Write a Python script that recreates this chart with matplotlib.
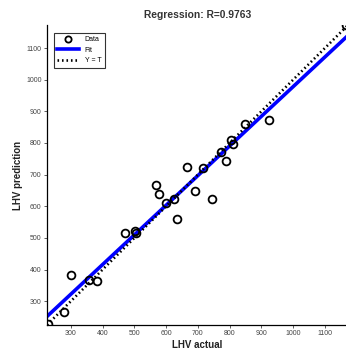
import numpy as np
import matplotlib
matplotlib.use('Agg')
import matplotlib.pyplot as plt

plt.rcParams['font.family'] = ['Liberation Sans', 'DejaVu Sans']

# LHV values
lhv_actual = [228, 277, 301, 358, 381, 471, 502, 505, 569, 578, 601, 625,
              635, 666, 690, 717, 743, 773, 788, 804, 810, 848, 924, 1165]
lhv_pred = [228, 267, 382, 366, 364, 517, 521, 515, 667, 639, 611, 622,
            559, 724, 648, 722, 624, 772, 743, 808, 796, 861, 874, 1172]
r_value = 0.9763
ticks = [300, 400, 500, 600, 700, 800, 900, 1000, 1100]
lims = (225, 1173)

x = np.array(lhv_actual)
y = np.array(lhv_pred)
slope, intercept = np.polyfit(x, y, 1)

fig = plt.figure(figsize=(3.46, 3.52), dpi=100)
ax = fig.add_axes([0.136, 0.077, 0.87, 0.852])

xx = np.array(lims)
ax.plot(x, y, 'o', mfc='none', mec='black', ms=5.6, mew=1.3, label='Data', zorder=3)
ax.plot(xx, slope * xx + intercept, color='blue', lw=2.6, label='Fit', zorder=2)
ax.plot(xx, xx, color='black', lw=1.9, ls=(0, (0.6, 1.1)), label='Y = T', zorder=2)

ax.set_xlim(lims)
ax.set_ylim(lims)
ax.set_xticks(ticks)
ax.set_yticks(ticks)
ax.tick_params(labelsize=5, colors='#444444', length=2, width=0.6, pad=2)
for s in ['top', 'right']:
    ax.spines[s].set_visible(False)
for s in ['left', 'bottom']:
    ax.spines[s].set_linewidth(0.9)

ax.set_title(f'Regression: R={r_value}', fontsize=7.4, fontweight='bold', color='#333333', pad=5)
ax.set_xlabel('LHV actual', fontsize=7, fontweight='bold', color='#222222', labelpad=2)
ax.set_ylabel('LHV prediction', fontsize=7, fontweight='bold', color='#222222', labelpad=2)

leg = ax.legend(loc='upper left', fontsize=5, frameon=True, fancybox=False,
                edgecolor='black', borderpad=0.5, handlelength=3.2,
                bbox_to_anchor=(0.01, 0.985), labelspacing=0.5, markerscale=0.8)
leg.get_frame().set_linewidth(0.8)

fig.savefig('out.png', dpi=100)
